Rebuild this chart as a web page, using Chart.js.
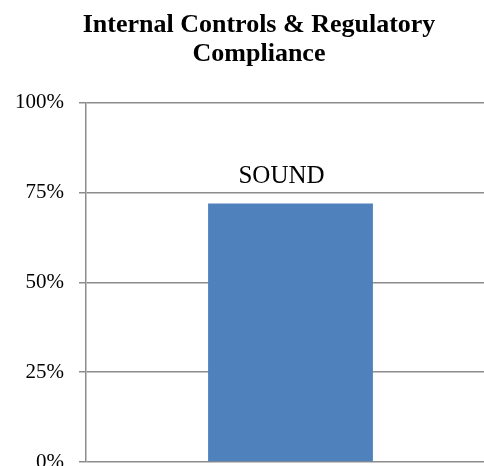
<!DOCTYPE html>
<html>
<head>
<meta charset="utf-8">
<script src="https://cdn.jsdelivr.net/npm/chart.js@4"></script>
<style>
  html, body { margin: 0; padding: 0; overflow: hidden; background: #fff; }
  canvas { display: block; }
</style>
</head>
<body>
<canvas id="chart" width="518" height="466"></canvas>
<script>
const titleLines = ['Internal Controls & Regulatory', 'Compliance']
const categories = ['SOUND']
const values = [0.72]
const yTicks = [0, 0.25, 0.5, 0.75, 1]

const gridGrey = '#8c8c8c'
const serif = "'Liberation Serif', 'Times New Roman', serif"

// draws the category name above its bar, like the data label in the original
const barLabels = {
  id: 'barLabels',
  afterDatasetsDraw (chart) {
    const ctx = chart.ctx
    const meta = chart.getDatasetMeta(0)
    ctx.save()
    ctx.font = '25px ' + serif
    ctx.fillStyle = '#000'
    ctx.textAlign = 'center'
    ctx.textBaseline = 'alphabetic'
    meta.data.forEach((bar, i) => {
      ctx.fillText(categories[i], bar.x - 9, bar.y - 21)
    })
    ctx.restore()
  }
}

// y labels sit partly in the left padding, so widen the label clip box
const unclipY = {
  id: 'unclipY',
  afterLayout (chart) {
    chart.scales.y.left = 0
  }
}

new Chart(document.getElementById('chart'), {
  type: 'bar',
  data: {
    labels: categories,
    datasets: [{
      data: values,
      backgroundColor: '#4F81BD',
      borderWidth: 0,
      barPercentage: 0.403,
      categoryPercentage: 1
    }]
  },
  options: {
    responsive: false,
    animation: false,
    layout: { padding: { left: 23, right: 23, top: 11, bottom: 4 } },
    plugins: {
      legend: { display: false },
      tooltip: { enabled: false },
      title: {
        display: true,
        text: titleLines,
        color: '#000',
        font: { family: serif, size: 26, weight: 'bold', lineHeight: 1.115 },
        padding: { top: 0, bottom: 34 }
      }
    },
    scales: {
      x: {
        display: false
      },
      y: {
        min: 0,
        max: 1,
        afterBuildTicks (scale) {
          scale.ticks = yTicks.map(v => ({ value: v }))
        },
        afterFit (scale) {
          scale.width = 63
          scale.paddingTop = 0
          scale.paddingBottom = 0
        },
        ticks: {
          color: '#000',
          padding: 15,
          font: { family: serif, size: 21 },
          callback: v => Math.round(v * 100) + '%'
        },
        grid: {
          color: gridGrey,
          lineWidth: 1.5,
          tickLength: 7,
          drawTicks: true
        },
        border: { color: gridGrey, width: 1.5 }
      }
    }
  },
  plugins: [barLabels, unclipY]
})
</script>
</body>
</html>
